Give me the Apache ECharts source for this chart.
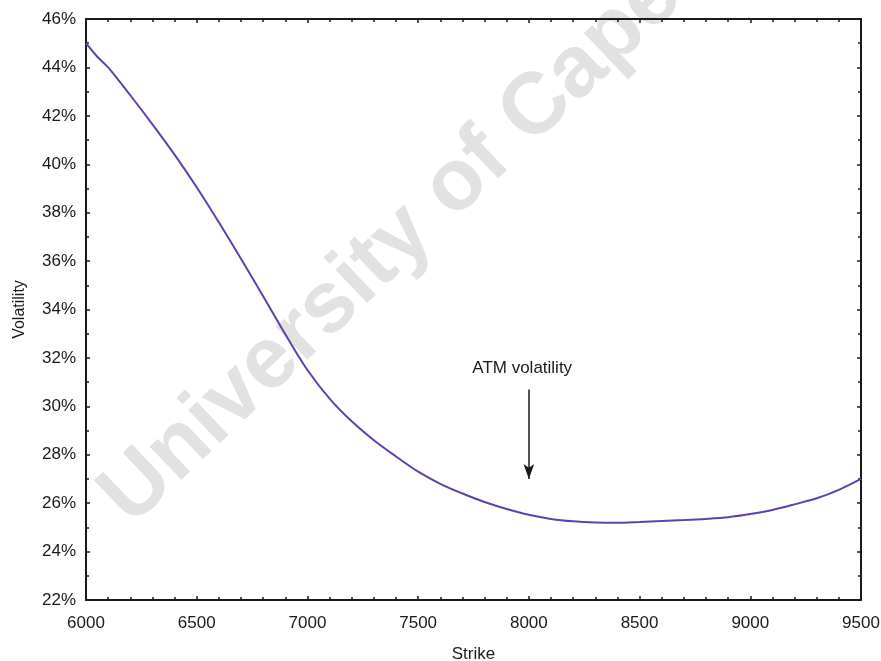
<!DOCTYPE html>
<html>
<head>
<meta charset="utf-8">
<script src="https://cdn.jsdelivr.net/npm/echarts@6/dist/echarts.min.js"></script>
<style>html,body{margin:0;padding:0;background:#fff;}#c{width:881px;height:661px;}</style>
</head>
<body>
<div id="c"></div>
<script>
var strikes = [6000, 6050, 6100, 6200, 6300, 6400, 6500, 6600, 6700, 6800, 6900, 7000, 7100, 7200, 7300, 7400, 7500, 7600, 7700, 7800, 7900, 8000, 8100, 8200, 8300, 8400, 8500, 8600, 8700, 8800, 8900, 9000, 9100, 9200, 9300, 9400, 9500];
var vols = [45.0, 44.45, 44.0, 42.85, 41.65, 40.4, 39.05, 37.6, 36.1, 34.55, 32.98, 31.5, 30.32, 29.38, 28.6, 27.93, 27.3, 26.8, 26.4, 26.05, 25.76, 25.52, 25.35, 25.25, 25.2, 25.19, 25.22, 25.26, 25.3, 25.35, 25.42, 25.55, 25.72, 25.95, 26.2, 26.55, 27.0];
var xTicks = [6000, 6500, 7000, 7500, 8000, 8500, 9000, 9500];
var yTicks = [22, 24, 26, 28, 30, 32, 34, 36, 38, 40, 42, 44, 46];
var atmStrike = 8000;
var atmArrow = [30.7, 27.0];
var atmLabel = 'ATM volatility';
var atmLabelPos = [7970, 31.55];
var watermark = 'University of Cape';

var FONT = "'Liberation Sans', Arial, sans-serif";
var chart = echarts.init(document.getElementById('c'));
var axisLine = {show: true, lineStyle: {color: '#1a1a1a', width: 2}};
function xAx(pos, show) {
  return {
    type: 'value', position: pos, min: xTicks[0], max: xTicks[xTicks.length - 1], interval: 500,
    axisLine: axisLine,
    axisTick: {show: true, inside: true, length: 4, lineStyle: {color: '#1a1a1a', width: 1.5}},
    minorTick: {show: true, splitNumber: 5, length: 3, lineStyle: {color: '#1a1a1a', width: 1.5}},
    splitLine: {show: false}, minorSplitLine: {show: false},
    axisLabel: {show: show, margin: 15, fontFamily: FONT, fontSize: 17, color: '#1a1a1a',
      formatter: function (v) { return String(v); }},
    name: show ? 'Strike' : '', nameLocation: 'middle', nameGap: 46,
    nameTextStyle: {fontFamily: FONT, fontSize: 17, color: '#1a1a1a'}
  };
}
function yAx(pos, show) {
  return {
    type: 'value', position: pos, min: yTicks[0], max: yTicks[yTicks.length - 1], interval: 2,
    axisLine: axisLine,
    axisTick: {show: true, inside: true, length: 4, lineStyle: {color: '#1a1a1a', width: 1.5}},
    minorTick: {show: true, splitNumber: 2, length: 3, lineStyle: {color: '#1a1a1a', width: 1.5}},
    splitLine: {show: false}, minorSplitLine: {show: false},
    axisLabel: {show: show, margin: 10, fontFamily: FONT, fontSize: 17, color: '#1a1a1a', formatter: '{value}%'},
    name: show ? 'Volatility' : '', nameLocation: 'middle', nameGap: 58,
    nameTextStyle: {fontFamily: FONT, fontSize: 16, color: '#1a1a1a'}
  };
}
chart.setOption({
  animation: false,
  backgroundColor: '#fff',
  grid: {left: 86, right: 20, top: 19, bottom: 61, containLabel: false, outerBoundsMode: 'none'},
  xAxis: [xAx('bottom', true), xAx('top', false)],
  yAxis: [yAx('left', true), yAx('right', false)],
  graphic: [{
    type: 'text', x: 115, y: 510, rotation: 43.6 * Math.PI / 180, z: -10, silent: true,
    style: {text: watermark, font: 'bold 87px ' + FONT, fill: '#e2e2e2',
      textAlign: 'left', textVerticalAlign: 'middle', align: 'left', verticalAlign: 'middle'}
  }],
  series: [{
    type: 'line', data: strikes.map(function (s, i) { return [s, vols[i]]; }),
    smooth: 0.3, showSymbol: false, symbol: 'none',
    lineStyle: {color: '#6040b0', width: 2},
    markLine: {
      silent: true, animation: false,
      data: [[
        {coord: [atmStrike, atmArrow[0]], symbol: 'none'},
        {coord: [atmStrike, atmArrow[1]], symbol: 'arrow', symbolSize: [8, 15]}
      ]],
      lineStyle: {color: '#1a1a1a', width: 1.5, type: 'solid'},
      label: {show: false}
    },
    markPoint: {
      silent: true, symbol: 'circle', symbolSize: 0,
      data: [{coord: atmLabelPos}],
      label: {show: true, position: 'inside', formatter: atmLabel, fontFamily: FONT, fontSize: 17, color: '#1a1a1a'}
    }
  }]
});
</script>
</body>
</html>
